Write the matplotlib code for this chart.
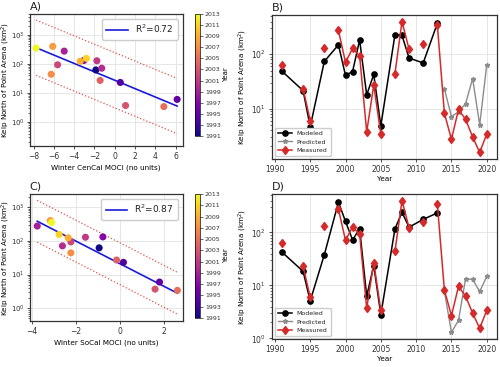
import numpy as np
import pandas as pd
import matplotlib
matplotlib.use("Agg")
import matplotlib.pyplot as plt
from matplotlib.colors import Normalize

# ---------------- data ----------------
years_fit = [1991, 1994, 1995, 1997, 1999, 2000, 2001, 2002, 2003, 2004, 2005,
             2007, 2008, 2009, 2011, 2013]
measured_fit = [62, 23, 6.0, 131, 275, 71, 128, 93, 3.7, 27, 3.4,
                44, 400, 123, 155, 350]
years_recent = [2014, 2015, 2016, 2017, 2018, 2019, 2020]
measured_recent = [8.2, 2.7, 9.6, 6.3, 3.0, 1.55, 3.4]

moci_cencal = [-1.86, 0.55, 6.15, -3.05, -4.98, -1.28, -1.76, -5.63, 1.07, -1.44, 4.84,
               -6.26, -6.11, -3.40, -2.79, -7.75]
moci_socal = [-0.95, 0.15, 1.78, -0.78, -3.75, -2.61, -1.57, -2.23, 1.58, -0.16, 2.59,
              -2.23, -3.16, -2.35, -2.76, -3.10]

modeled_cencal = [48.7, 21.3, 4.6, 73.6, 149, 40.8, 48, 183, 17.8, 42.5, 4.8,
                  228, 222, 85, 69, 370]
modeled_socal = [42.7, 18.4, 5.1, 38, 373, 162, 72.5, 117, 6.3, 23.8, 2.8,
                 117, 240, 126, 177, 234]
predicted_cencal = [23, 7.1, 8.7, 12.3, 35.5, 5.0, 64]
predicted_socal = [7.8, 1.3, 2.2, 13.4, 13, 7.7, 14.8]

r2_labels = ["R$^2$=0.72", "R$^2$=0.87"]
pi_halfwidth = [0.95, 0.62]   # decades, prediction band
year_ticks_cbar = list(range(1991, 2014, 2))

# ---------------- figure ----------------
W, H = 500, 367
fig = plt.figure(figsize=(W / 100, H / 100), dpi=100)
plt.rcParams["text.color"] = "#222222"

def ax_px(l, t, r, b):
    return fig.add_axes([l / W, 1 - b / H, (r - l) / W, (b - t) / H])

axA = ax_px(29.5, 14, 182.7, 146)
caxA = ax_px(195, 14, 200, 136)
axB = ax_px(271.7, 15, 497, 159)
axC = ax_px(29.5, 194, 182.7, 321)
caxC = ax_px(195, 194, 200, 318)
axD = ax_px(271.7, 194, 497, 339)

tick_fs = 5.5
label_fs = 5.2
grid_kw = dict(color="#e2e2e2", linewidth=0.6)
ylabel = "Kelp North of Point Arena (km$^2$)"
norm = Normalize(vmin=1991, vmax=2013)

def style(ax):
    ax.grid(True, which="major", **grid_kw)
    ax.set_axisbelow(True)
    ax.tick_params(labelsize=tick_fs, length=2.5, width=0.6, pad=1.5,
                   colors="#333333")
    ax.tick_params(which="minor", length=1.5, width=0.4)
    for s in ax.spines.values():
        s.set_linewidth(0.9)
        s.set_color("#333333")

def scatter_panel(ax, cax, moci, modeled, xlabel, r2, hw, title, xlim, ylim):
    x = np.array(moci)
    y = np.array(measured_fit, dtype=float)
    ymod = np.array(modeled, dtype=float)
    slope, icpt = np.polyfit(x, np.log10(ymod), 1)
    xs = np.array([x.min(), x.max()])
    line = icpt + slope * xs
    sc = ax.scatter(x, y, c=years_fit, cmap="plasma", norm=norm, s=26,
                    edgecolors="none", zorder=3)
    ax.plot(xs, 10 ** line, color="#1a1adb", lw=1.2, label=r2, zorder=2)
    ax.plot(xs, 10 ** (line + hw), color="#e0554a", lw=0.9, ls=":", zorder=2)
    ax.plot(xs, 10 ** (line - hw), color="#e0554a", lw=0.9, ls=":", zorder=2)
    ax.set_yscale("log")
    ax.set_xlim(*xlim)
    ax.set_ylim(*ylim)
    style(ax)
    ax.tick_params(axis="y", labelsize=5, pad=1)
    ax.set_xlabel(xlabel, fontsize=label_fs, labelpad=3)
    ax.set_ylabel(ylabel, fontsize=label_fs)
    ax.yaxis.set_label_coords(-0.112, 0.5)
    ax.set_title(title, loc="left", fontsize=8, pad=3, x=0.0)
    ax.legend(loc="upper right", fontsize=6.5, handlelength=2.4, borderpad=0.5,
              framealpha=1, edgecolor="#cccccc", fancybox=True)
    cb = fig.colorbar(sc, cax=cax)
    cb.set_ticks(year_ticks_cbar)
    cb.ax.tick_params(labelsize=4.5, length=2, width=0.5, pad=1.5, colors="#333333")
    cb.set_label("Year", fontsize=5, labelpad=1.5)
    cb.outline.set_linewidth(0.5)

scatter_panel(axA, caxA, moci_cencal, modeled_cencal, "Winter CenCal MOCI (no units)",
              r2_labels[0], pi_halfwidth[0], "A)", (-8.4, 6.7), (0.15, 5200))
axA.set_xticks([-8, -6, -4, -2, 0, 2, 4, 6])
scatter_panel(axC, caxC, moci_socal, modeled_socal, "Winter SoCal MOCI (no units)",
              r2_labels[1], pi_halfwidth[1], "C)", (-4.1, 2.83), (0.42, 2450))

all_years = list(range(1991, 2021))

def series_panel(ax, modeled, predicted, title):
    meas = pd.Series(measured_fit + measured_recent, index=years_fit + years_recent)
    meas_full = meas.reindex(all_years)
    ax.plot(years_fit, modeled, color="black", marker="o", ms=3.8, lw=1.1,
            label="Modeled", zorder=3)
    ax.plot(years_recent, predicted, color="#8c8c8c", marker="*", ms=3.5, lw=1.0,
            label="Predicted", zorder=2)
    ax.plot(meas_full.index, meas_full.values, color="#d42a2a", marker="d", ms=4.5,
            lw=1.1, label="Measured", zorder=4)
    ax.set_yscale("log")
    ax.set_xticks([1990, 1995, 2000, 2005, 2010, 2015, 2020])
    style(ax)
    ax.set_xlabel("Year", fontsize=label_fs, labelpad=2)
    ax.set_ylabel(ylabel, fontsize=label_fs, labelpad=1.5)
    ax.set_title(title, loc="left", fontsize=8, pad=3, x=0.0)
    ax.legend(loc="lower left", fontsize=4.5, handlelength=2.2, borderpad=0.5,
              labelspacing=0.45, framealpha=1, edgecolor="#cccccc")

series_panel(axB, modeled_cencal, predicted_cencal, "B)")
series_panel(axD, modeled_socal, predicted_socal, "D)")

fig.savefig("out.png", dpi=100)
